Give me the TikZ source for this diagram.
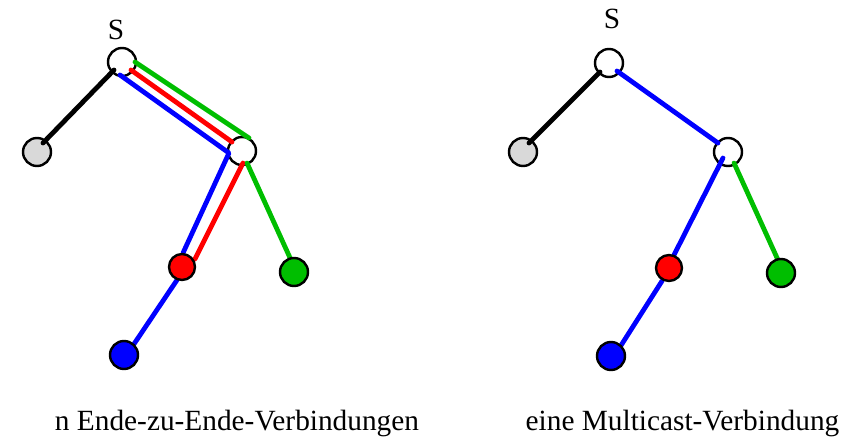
\documentclass[tikz,border=0pt]{standalone}
\usepackage{fontspec}
\setmainfont{Liberation Serif}
\usetikzlibrary{calc}
\pgfdeclarelayer{fg}
\pgfsetlayers{main,fg}
\definecolor{linkblue}{RGB}{0,0,255}
\definecolor{linkred}{RGB}{255,0,0}
\definecolor{linkgreen}{RGB}{0,190,0}
\definecolor{hostgrey}{RGB}{217,217,217}
\begin{document}
\begin{tikzpicture}[x=0.75pt,y=-0.75pt,
  netnode/.style={circle,draw=black,line width=1.8pt,minimum size=21pt,inner sep=0pt},
  router/.style={netnode,fill=white},
  link/.style={line width=3.6pt,line cap=round,line join=round},
  lbl/.style={font=\fontsize{22}{26}\selectfont,anchor=base,inner sep=0pt}]
\useasboundingbox (0,0) rectangle (861,438);

% ---------- left tree: one connection per receiver ----------
\node[router] (ls) at (122,62) {};
\node[netnode,fill=hostgrey] (lg) at (37,152) {};
\node[router] (lm) at (242,151) {};
\begin{pgfonlayer}{fg}
  \node[netnode,fill=linkred,minimum size=19.5pt] (lr) at (182,267) {};
  \node[netnode,fill=linkgreen] (lgr) at (294,272) {};
  \node[netnode,fill=linkblue] (lb) at (124,355) {};
\end{pgfonlayer}
\node[lbl] (lsl) at (116,40) {S};

\draw[link,black] ($(lg)+(6,-9)$) -- ($(ls)+(-8,8)$);
\draw[link,linkgreen] ($(ls)+(13,0)$) -- ($(lm)+(7,-13)$);
\draw[link,linkred] ($(ls)+(9,8)$) -- ($(lm)+(-10,-9)$);
\draw[link,linkblue] ($(ls)+(-2,13)$) -- ($(lm)+(-13,2)$) -- ($(lr)+(1,-14)$);
\draw[link,linkred] ($(lm)+(1,12)$) -- ($(lr)+(13,-8)$);
\draw[link,linkgreen] ($(lm)+(5,12)$) -- ($(lgr)+(-3,-12)$);
\draw[link,linkblue] ($(lr)+(-5,13)$) -- ($(lb)+(8,-8)$);

\node[lbl] (lcap) at (237,431) {n Ende-zu-Ende-Verbindungen};

% ---------- right tree: one multicast connection ----------
\node[router] (rs) at (609,63) {};
\node[netnode,fill=hostgrey] (rg) at (523,152) {};
\node[router] (rm) at (728,152) {};
\begin{pgfonlayer}{fg}
  \node[netnode,fill=linkred,minimum size=19.5pt] (rr) at (669,268) {};
  \node[netnode,fill=linkgreen] (rgr) at (781,273) {};
  \node[netnode,fill=linkblue] (rb) at (611,356) {};
\end{pgfonlayer}
\node[lbl] (rsl) at (612,29) {S};

\draw[link,black] ($(rg)+(6,-9)$) -- ($(rs)+(-9,9)$);
\draw[link,linkblue] ($(rs)+(8,8)$) -- ($(rm)+(-10,-9)$);
\draw[link,linkblue] ($(rm)+(-5,6)$) -- ($(rr)+(5,-13)$);
\draw[link,linkblue] ($(rr)+(-7,13)$) -- ($(rb)+(9,-9)$);
\draw[link,linkgreen] ($(rm)+(6,11)$) -- ($(rgr)+(-3,-13)$);

\node[lbl] (rcap) at (682.5,431) {eine Multicast-Verbindung};
\end{tikzpicture}
\end{document}
